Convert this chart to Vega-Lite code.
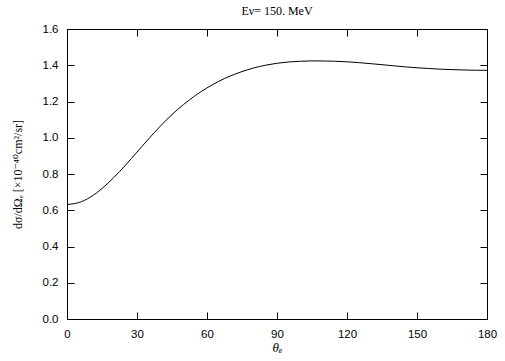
{
  "$schema": "https://vega.github.io/schema/vega-lite/v6.json",
  "width": 420,
  "height": 290,
  "autosize": {"type": "none"},
  "padding": {"left": 67, "top": 29, "right": 18, "bottom": 42},
  "background": "white",
  "title": {"text": "Eν= 150. MeV", "font": "Liberation Serif, DejaVu Serif", "fontSize": 12, "fontWeight": "normal", "color": "black", "offset": 5, "anchor": "middle"},
  "config": {
    "view": {"stroke": "black", "strokeWidth": 1},
    "axis": {"grid": false, "domainColor": "black", "tickColor": "black", "labelColor": "black", "titleColor": "black", "labelFont": "Liberation Sans", "labelFontSize": 11.5, "tickSize": -7, "domainWidth": 1, "tickWidth": 1}
  },
  "data": {"values": [
    {"theta": 0, "v": 0.632},
    {"theta": 5, "v": 0.642},
    {"theta": 10, "v": 0.672},
    {"theta": 15, "v": 0.720},
    {"theta": 20, "v": 0.780},
    {"theta": 25, "v": 0.848},
    {"theta": 30, "v": 0.921},
    {"theta": 35, "v": 0.994},
    {"theta": 40, "v": 1.064},
    {"theta": 45, "v": 1.128},
    {"theta": 50, "v": 1.184},
    {"theta": 55, "v": 1.233},
    {"theta": 60, "v": 1.275},
    {"theta": 65, "v": 1.311},
    {"theta": 70, "v": 1.341},
    {"theta": 75, "v": 1.365},
    {"theta": 80, "v": 1.385},
    {"theta": 85, "v": 1.400},
    {"theta": 90, "v": 1.411},
    {"theta": 95, "v": 1.418},
    {"theta": 100, "v": 1.422},
    {"theta": 105, "v": 1.424},
    {"theta": 110, "v": 1.4235},
    {"theta": 115, "v": 1.422},
    {"theta": 120, "v": 1.419},
    {"theta": 125, "v": 1.4145},
    {"theta": 130, "v": 1.409},
    {"theta": 135, "v": 1.403},
    {"theta": 140, "v": 1.397},
    {"theta": 145, "v": 1.391},
    {"theta": 150, "v": 1.386},
    {"theta": 155, "v": 1.382},
    {"theta": 160, "v": 1.3785},
    {"theta": 165, "v": 1.376},
    {"theta": 170, "v": 1.374},
    {"theta": 175, "v": 1.3725},
    {"theta": 180, "v": 1.372}
  ]},
  "layer": [
    {
      "mark": {"type": "line", "color": "black", "strokeWidth": 1, "interpolate": "monotone"},
      "encoding": {
        "x": {"field": "theta", "type": "quantitative", "scale": {"domain": [0, 180], "nice": false, "zero": false},
              "axis": {"values": [0, 30, 60, 90, 120, 150, 180], "labelPadding": 16, "title": "θₑ", "titleFont": "Liberation Serif, DejaVu Serif", "titleFontStyle": "italic", "titleFontWeight": "normal", "titleFontSize": 13, "titlePadding": 2, "labelFlush": false}},
        "y": {"field": "v", "type": "quantitative", "scale": {"domain": [0, 1.6], "nice": false},
              "axis": {"values": [0, 0.2, 0.4, 0.6, 0.8, 1.0, 1.2, 1.4, 1.6], "format": ".1f", "labelPadding": 16, "title": "dσ/dΩₑ [×10⁻⁴⁰cm²/sr]", "titleFont": "Liberation Serif, DejaVu Serif", "titleFontWeight": "normal", "titleFontSize": 12, "titlePadding": 18}}
      }
    },
    {
      "mark": {"type": "line", "strokeOpacity": 0},
      "encoding": {
        "x": {"field": "theta", "type": "quantitative", "scale": {"domain": [0, 180], "nice": false, "zero": false},
              "axis": {"orient": "top", "values": [0, 30, 60, 90, 120, 150, 180], "labels": false, "title": null, "domain": false}},
        "y": {"field": "v", "type": "quantitative", "scale": {"domain": [0, 1.6], "nice": false},
              "axis": {"orient": "right", "values": [0, 0.2, 0.4, 0.6, 0.8, 1.0, 1.2, 1.4, 1.6], "labels": false, "title": null, "domain": false}}
      }
    }
  ],
  "resolve": {"axis": {"x": "independent", "y": "independent"}}
}
